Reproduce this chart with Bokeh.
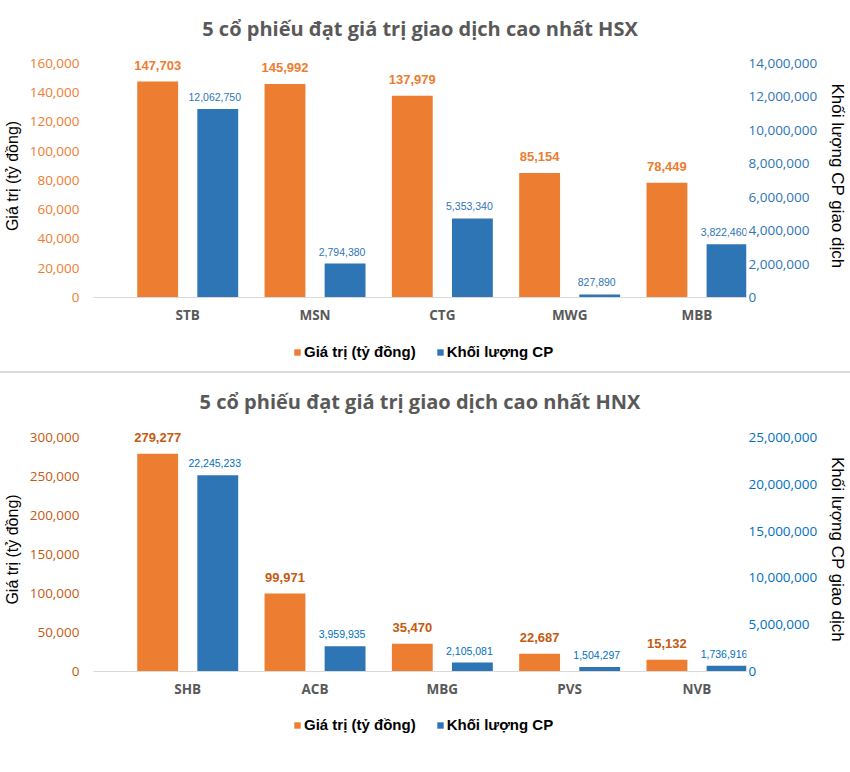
from bokeh.plotting import figure
from bokeh.models import (Range1d, LinearAxis, FixedTicker, ColumnDataSource, Legend,
                          LegendItem, NumeralTickFormatter, Div)
from bokeh.transform import dodge
from bokeh.layouts import column
from bokeh.core.properties import value
from bokeh.embed import file_html
from bokeh.resources import INLINE

# ---------------- data ----------------
hsx_title = "5 cổ phiếu đạt giá trị giao dịch cao nhất HSX"
hsx_codes = ["STB", "MSN", "CTG", "MWG", "MBB"]
hsx_value = [147703, 145992, 137979, 85154, 78449]
hsx_volume_label = [12062750, 2794380, 5353340, 827890, 3822460]
hsx_volume_bar = [11280000, 2030000, 4730000, 180000, 3180000]
hsx_left_ticks = [0, 20000, 40000, 60000, 80000, 100000, 120000, 140000, 160000]
hsx_right_ticks = [0, 2000000, 4000000, 6000000, 8000000, 10000000, 12000000, 14000000]

hnx_title = "5 cổ phiếu đạt giá trị giao dịch cao nhất HNX"
hnx_codes = ["SHB", "ACB", "MBG", "PVS", "NVB"]
hnx_value = [279277, 99971, 35470, 22687, 15132]
hnx_volume_label = [22245233, 3959935, 2105081, 1504297, 1736916]
hnx_volume_bar = [20950000, 2710000, 960000, 470000, 610000]
hnx_left_ticks = [0, 50000, 100000, 150000, 200000, 250000, 300000]
hnx_right_ticks = [0, 5000000, 10000000, 15000000, 20000000, 25000000]

series_names = ["Giá trị (tỷ đồng)", "Khối lượng CP"]
left_axis_title = "Giá trị (tỷ đồng)"
right_axis_title = "Khối lượng CP giao dịch"

ORANGE = "#ED7D31"
BLUE = "#2E75B6"
W = 850
AXIS_PX = 235  # pixels from 0 to the top tick


def make_chart(title, codes, vals, vol_lbl, vol_bar, lticks, rticks,
               lab_orange, lab_blue, height, top_b, bottom_b, head_px, title_standoff):
    xs = list(range(len(codes)))
    src = ColumnDataSource(dict(
        x=xs, val=vals, vol=vol_bar,
        val_txt=[f"{v:,}" for v in vals],
        vol_txt=[f"{v:,}" for v in vol_lbl],
    ))
    k = (AXIS_PX + head_px) / AXIS_PX
    p = figure(width=W, height=height, output_backend="svg", toolbar_location=None,
               x_range=Range1d(-0.74, 4.389), y_range=Range1d(0, lticks[-1] * k),
               min_border_left=90, min_border_right=98,
               min_border_top=top_b, min_border_bottom=bottom_b)
    p.extra_y_ranges = {"vol": Range1d(0, rticks[-1] * k)}
    p.outline_line_color = None
    p.xgrid.visible = False
    p.ygrid.visible = False

    p.title.text = title
    p.title.text_font = "Open Sans"
    p.title.text_font_style = "bold"
    p.title.text_font_size = "20px"
    p.title.text_color = "#595959"
    p.title.align = "center"
    p.title.offset = 2
    p.title.standoff = title_standoff

    p.vbar(x=dodge("x", -0.236, range=p.x_range), top="val", width=0.321,
           source=src, fill_color=ORANGE, line_color=None)
    p.vbar(x=dodge("x", 0.236, range=p.x_range), top="vol", width=0.321,
           source=src, fill_color=BLUE, line_color=None, y_range_name="vol")

    p.text(x=dodge("x", -0.236, range=p.x_range), y="val", text="val_txt", source=src,
           text_font=value("Liberation Sans"), text_font_style="bold",
           text_font_size="13px", text_color=lab_orange, text_align="center",
           text_baseline="middle", y_offset=-16)
    p.text(x=dodge("x", 0.236, range=p.x_range), y="vol", text="vol_txt", source=src,
           text_font=value("Liberation Sans"), text_font_size="10.5px",
           text_color=lab_blue, text_align="center", text_baseline="middle",
           x_offset=-3, y_offset=-12, y_range_name="vol")

    # x axis
    xa = p.xaxis[0]
    xa.ticker = FixedTicker(ticks=xs)
    xa.major_label_overrides = {i: c for i, c in enumerate(codes)}
    xa.axis_line_color = "#D9D9D9"
    xa.major_tick_line_color = None
    xa.minor_tick_line_color = None
    xa.major_tick_out = 0
    xa.major_label_standoff = 8
    xa.major_label_text_font = "Open Sans"
    xa.major_label_text_font_style = "bold"
    xa.major_label_text_font_size = "13.5px"
    xa.major_label_text_color = "#595959"

    # left axis
    ya = p.yaxis[0]
    ya.ticker = FixedTicker(ticks=lticks)
    ya.formatter = NumeralTickFormatter(format="0,0")
    ya.axis_line_color = None
    ya.major_tick_line_color = None
    ya.minor_tick_line_color = None
    ya.major_tick_out = 0
    ya.major_label_standoff = 14
    ya.major_label_text_font = "Open Sans"
    ya.major_label_text_font_size = "13.5px"
    ya.major_label_text_color = lab_orange
    ya.axis_label = left_axis_title
    ya.axis_label_text_font = "Liberation Sans"
    ya.axis_label_text_font_style = "normal"
    ya.axis_label_text_font_size = "16px"
    ya.axis_label_text_color = "#000000"
    ya.axis_label_standoff = 6

    ra = LinearAxis(y_range_name="vol", ticker=FixedTicker(ticks=rticks),
                    formatter=NumeralTickFormatter(format="0,0"))
    ra.axis_line_color = None
    ra.major_tick_line_color = None
    ra.minor_tick_line_color = None
    ra.major_tick_out = 0
    ra.major_label_standoff = 2
    ra.major_label_text_font = "Open Sans"
    ra.major_label_text_font_size = "13.5px"
    ra.major_label_text_color = lab_blue
    ra.axis_label = right_axis_title
    ra.axis_label_text_font = "Liberation Sans"
    ra.axis_label_text_font_style = "normal"
    ra.axis_label_text_font_size = "17px"
    ra.axis_label_text_color = "#000000"
    ra.axis_label_standoff = 8
    p.add_layout(ra, "right")
    return p


def make_legend(height, loc_y):
    lf = figure(width=W, height=height, output_backend="svg", toolbar_location=None,
                x_range=Range1d(0, 1), y_range=Range1d(0, 1),
                x_axis_location=None, y_axis_location=None,
                min_border_left=90, min_border_right=98,
                min_border_top=0, min_border_bottom=0)
    lf.outline_line_color = None
    lf.xgrid.visible = False
    lf.ygrid.visible = False
    # zero-height carriers, only used to draw the legend swatches
    carrier = ColumnDataSource(dict(x=[0.5], top=[0]))
    g1 = lf.vbar(x="x", top="top", width=0.01, source=carrier, fill_color=ORANGE, line_color=None)
    g2 = lf.vbar(x="x", top="top", width=0.01, source=carrier, fill_color=BLUE, line_color=None)
    legend = Legend(items=[LegendItem(label=series_names[0], renderers=[g1]),
                           LegendItem(label=series_names[1], renderers=[g2])],
                    orientation="horizontal", location=(200, loc_y),
                    glyph_width=8, glyph_height=8, label_standoff=3, spacing=20,
                    padding=0, margin=0, border_line_color=None,
                    background_fill_alpha=0,
                    label_text_font="Liberation Sans", label_text_font_style="bold",
                    label_text_font_size="15px", label_text_color="#000000")
    lf.add_layout(legend, "center")
    return lf


top = make_chart(hsx_title, hsx_codes, hsx_value, hsx_volume_label, hsx_volume_bar,
                 hsx_left_ticks, hsx_right_ticks, "#ED7D31", "#2E75B6",
                 335, 53, 38, 9, 25)
top_leg = make_legend(36, 11)
sep = Div(text="", width=W, height=2, margin=(0, 0, 0, 0),
          styles={"background-color": "#DADADA"})
bottom = make_chart(hnx_title, hnx_codes, hnx_value, hnx_volume_label, hnx_volume_bar,
                    hnx_left_ticks, hnx_right_ticks, "#C55A11", "#0070C0",
                    334, 53, 36, 10, 25)
bottom_leg = make_legend(65, 39)

layout = column(top, top_leg, sep, bottom, bottom_leg, spacing=0)
open("out.html", "w").write(file_html(layout, INLINE))
